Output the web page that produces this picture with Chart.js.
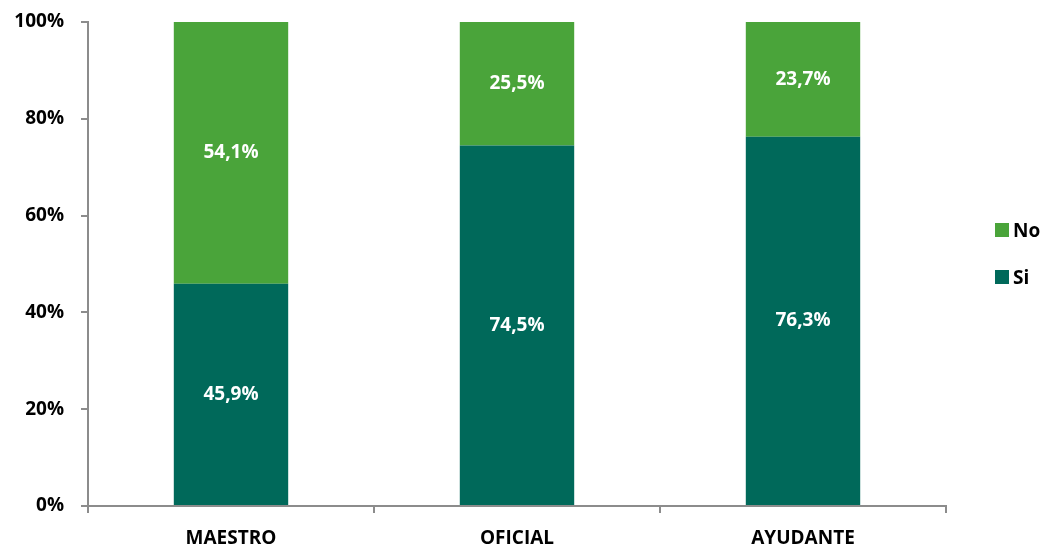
<!DOCTYPE html>
<html>
<head>
<meta charset="utf-8">
<script src="https://cdn.jsdelivr.net/npm/chart.js@4"></script>
<style>
html,body{margin:0;padding:0;background:#fff;}
#wrap{width:1044px;height:548px;position:relative;}
</style>
</head>
<body>
<div id="wrap"><canvas id="c" width="1044" height="548"></canvas></div>
<script>
const categories = ["MAESTRO", "OFICIAL", "AYUDANTE"];
const siValues = [45.9, 74.5, 76.3];
const noValues = [54.1, 25.5, 23.7];
const yTicks = [0, 20, 40, 60, 80, 100];

const FONT = "'Open Sans', Lato, sans-serif";
const COL_NO = "#4aa43a";
const COL_SI = "#00695a";
const AXIS = "#8c8c8c";

const labelPlugin = {
  id: "segLabels",
  afterDatasetsDraw(chart) {
    const ctx = chart.ctx;
    ctx.save();
    ctx.fillStyle = "#ffffff";
    ctx.font = "bold 19px " + FONT;
    ctx.textAlign = "center";
    ctx.textBaseline = "middle";
    chart.data.datasets.forEach((ds, di) => {
      const meta = chart.getDatasetMeta(di);
      meta.data.forEach((bar, i) => {
        const v = ds.data[i];
        const yc = (bar.y + bar.base) / 2;
        ctx.fillText(v.toFixed(1).replace(".", ",") + "%", bar.x, yc);
      });
    });
    ctx.restore();
  }
};

const legendPlugin = {
  id: "sideLegend",
  afterDraw(chart) {
    const ctx = chart.ctx;
    ctx.save();
    ctx.font = "bold 19px " + FONT;
    ctx.textBaseline = "middle";
    ctx.textAlign = "left";
    const items = chart.data.datasets.slice().reverse();
    items.forEach((ds, k) => {
      const yc = 230 + k * 47;
      ctx.fillStyle = ds.backgroundColor;
      ctx.fillRect(995, yc - 7, 14, 14);
      ctx.fillStyle = "#000";
      ctx.fillText(ds.label, 1013, yc + 2);
    });
    ctx.restore();
  }
};

new Chart(document.getElementById("c"), {
  type: "bar",
  data: {
    labels: categories,
    datasets: [
      { label: "Si", data: siValues, backgroundColor: COL_SI, barPercentage: 0.4, categoryPercentage: 1.0 },
      { label: "No", data: noValues, backgroundColor: COL_NO, barPercentage: 0.4, categoryPercentage: 1.0 }
    ]
  },
  options: {
    responsive: false,
    animation: false,
    devicePixelRatio: 1,
    layout: { padding: { left: 0, right: 98, top: 22, bottom: 0 } },
    plugins: { legend: { display: false }, tooltip: { enabled: false } },
    scales: {
      x: {
        stacked: true,
        grid: { display: true, drawOnChartArea: false, offset: true, color: AXIS, lineWidth: 2, tickLength: 7 },
        border: { color: AXIS, width: 2 },
        ticks: { color: "#000", font: { family: FONT, size: 19, weight: "bold" }, padding: 14 },
        afterFit(s) { s.height = 42; s.paddingLeft = 0; s.paddingRight = 0; }
      },
      y: {
        stacked: true,
        min: 0, max: 100,
        afterBuildTicks(s) { s.ticks = yTicks.map(v => ({ value: v })); },
        grid: { display: true, drawOnChartArea: false, color: AXIS, lineWidth: 2, tickLength: 7 },
        border: { color: AXIS, width: 2 },
        ticks: { color: "#000", font: { family: FONT, size: 19, weight: "bold" }, padding: 17, callback: v => v + "%" },
        afterFit(s) { s.width = 88; s.paddingTop = 0; s.paddingBottom = 0; }
      }
    }
  },
  plugins: [labelPlugin, legendPlugin]
});
</script>
</body>
</html>
